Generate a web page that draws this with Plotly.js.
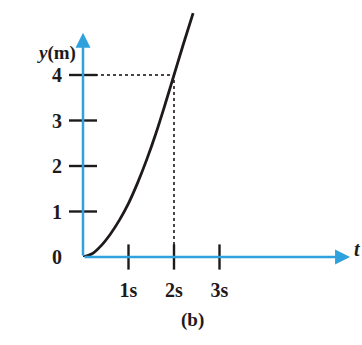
<!DOCTYPE html>
<html>
<head>
<meta charset="utf-8">
<script src="https://cdn.plot.ly/plotly-3.0.1.min.js"></script>
<style>html,body{margin:0;padding:0;background:#fff;}#chart{width:362px;height:345px;}</style>
</head>
<body>
<div id="chart"></div>
<script>
// Data
const curveT = [0, 0.2, 0.4, 0.6, 0.8, 1.0, 1.2, 1.4, 1.6, 1.8, 2.0, 2.2, 2.42];
const curveY = [0, 0.07, 0.25, 0.50, 0.81, 1.18, 1.63, 2.14, 2.71, 3.34, 4.0, 4.66, 5.36];
const guideT = 2;
const guideY = 4;
const xTickVals = [1, 2, 3];
const xTickText = ['1s', '2s', '3s'];
const yTickVals = [0, 1, 2, 3, 4];
const yTickText = ['0', '1', '2', '3', '4'];
const xAxisEnd = 5.87;
const yAxisEnd = 4.93;

const axisBlue = '#2fa2de';
const ink = '#1f1a1a';
const fontFam = '"Liberation Serif", "DejaVu Serif", serif';

const traces = [
  { x: [0, guideT, guideT], y: [guideY, guideY, 0], mode: 'lines',
    line: { color: '#4a4444', width: 2, dash: 'dot' }, cliponaxis: false, hoverinfo: 'skip' },
  { x: curveT, y: curveY, mode: 'lines', line: { color: ink, width: 2.8, shape: 'spline', smoothing: 1 },
    cliponaxis: false, hoverinfo: 'skip' },
  { x: xTickVals, y: xTickVals.map(() => 0), mode: 'markers',
    marker: { symbol: 'line-ns-open', size: 18, color: ink, line: { color: ink, width: 2.4 } },
    cliponaxis: false, hoverinfo: 'skip' },
  { x: yTickVals.slice(1).map(() => 0), y: yTickVals.slice(1), mode: 'markers',
    marker: { symbol: 'line-ew-open', size: 20, color: ink, line: { color: ink, width: 2.4 } },
    cliponaxis: false, hoverinfo: 'skip' }
];

const layout = {
  width: 362, height: 345,
  margin: { l: 83, r: 7, t: 10, b: 88 },
  paper_bgcolor: '#fff', plot_bgcolor: '#fff',
  showlegend: false,
  font: { family: fontFam, color: ink, size: 20, weight: 'bold' },
  xaxis: { range: [0, 272 / 45.5], showgrid: false, zeroline: false, showline: false,
    tickvals: xTickVals, ticktext: xTickText, ticks: '', ticklabelstandoff: 19,
    tickfont: { family: fontFam, size: 20, weight: 'bold', color: ink } },
  yaxis: { range: [0, 247 / 45.5], showgrid: false, zeroline: false, showline: false,
    tickvals: yTickVals, ticktext: yTickText, ticks: '', ticklabelstandoff: 20,
    tickfont: { family: fontFam, size: 20, weight: 'bold', color: ink } },
  annotations: [
    { x: xAxisEnd, y: 0, ax: 0, ay: 0, xref: 'x', yref: 'y', axref: 'x', ayref: 'y',
      showarrow: true, arrowhead: 2, arrowsize: 1.2, arrowwidth: 2.5, arrowcolor: axisBlue, text: '' },
    { x: 0, y: yAxisEnd, ax: 0, ay: 0, xref: 'x', yref: 'y', axref: 'x', ayref: 'y',
      showarrow: true, arrowhead: 2, arrowsize: 1.2, arrowwidth: 2.5, arrowcolor: axisBlue, text: '' },
    { x: 35, y: 40, xref: 'paper', yref: 'paper', showarrow: false, text: '<i>y</i>(m)',
      font: { family: fontFam, size: 19, weight: 'bold', color: ink } },
    { x: 192, y: 333, xref: 'paper', yref: 'paper', showarrow: false, text: '(b)',
      font: { family: fontFam, size: 19, weight: 'bold', color: ink } },
    { x: 352, y: 262, xref: 'paper', yref: 'paper', showarrow: false, text: '<i>t</i>', xanchor: 'left',
      font: { family: fontFam, size: 20, weight: 'bold', color: ink } }
  ]
};
// convert pixel-positioned text annotations to paper coordinates
const pw = 362 - 83 - 7, ph = 345 - 10 - 88;
layout.annotations.forEach(a => {
  if (a.xref === 'paper') {
    a.x = (a.x - 83) / pw;
    a.y = (345 - 88 - a.y) / ph;
  }
});
Plotly.newPlot('chart', traces, layout, { staticPlot: true, displayModeBar: false });
</script>
</body>
</html>
